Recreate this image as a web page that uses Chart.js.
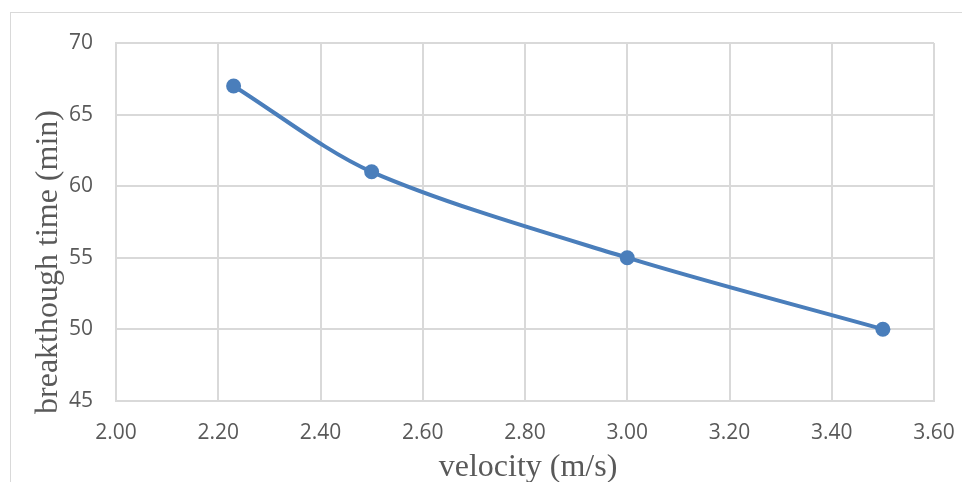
<!DOCTYPE html>
<html>
<head>
<meta charset="utf-8">
<script src="https://cdn.jsdelivr.net/npm/chart.js@4.4.1/dist/chart.umd.min.js"></script>
<style>
  html, body { margin: 0; padding: 0; background: #fff; overflow: hidden; width: 962px; height: 482px; }
  #frame {
    position: absolute; left: 10px; top: 12px; width: 960px; height: 490px;
    border-left: 1px solid #d9d9d9; border-top: 1px solid #d9d9d9; overflow: hidden;
  }
  #chart { display: block; }
</style>
</head>
<body>
<div id="frame"><canvas id="chart" width="951" height="490"></canvas></div>
<script>
// data
const velocity = [2.23, 2.5, 3.0, 3.5];
const breakTime = [67, 61, 55, 50];
const xTitle = 'velocity (m/s)';
const yTitle = 'breakthough time (min)';

const gridColor = '#d9d9d9';
const textColor = '#595959';
const lineColor = '#4a7ebb';

// axis titles drawn by hand so they sit where the original puts them
const axisTitles = {
    id: 'axisTitles',
    afterDraw(chart) {
        const { ctx, chartArea } = chart;
        ctx.save();
        ctx.fillStyle = textColor;
        ctx.font = '32px "Liberation Serif"';
        ctx.textAlign = 'center';
        ctx.textBaseline = 'alphabetic';
        ctx.fillText(xTitle, (chartArea.left + chartArea.right) / 2 + 3, chartArea.bottom + 75);
        ctx.translate(chartArea.left - 59, chartArea.top + 219);
        ctx.rotate(-Math.PI / 2);
        ctx.fillText(yTitle, 0, 0);
        ctx.restore();
    }
};

// let layout.padding alone decide the margins
const noOverflow = scale => {
    scale.paddingTop = 0;
    scale.paddingBottom = 0;
    scale.paddingLeft = 0;
    scale.paddingRight = 0;
};

const ctx = document.getElementById('chart').getContext('2d');
new Chart(ctx, {
    type: 'line',
    data: {
        datasets: [{
            data: velocity.map((v, i) => ({ x: v, y: breakTime[i] })),
            borderColor: lineColor,
            backgroundColor: lineColor,
            borderWidth: 4,
            pointRadius: 7.5,
            pointBackgroundColor: lineColor,
            pointBorderWidth: 0,
            tension: 0.3,
            fill: false
        }]
    },
    options: {
        responsive: false,
        animation: false,
        layout: {
            padding: { left: 35, right: 28, top: 30, bottom: 37 }
        },
        plugins: {
            legend: { display: false },
            tooltip: { enabled: false }
        },
        scales: {
            x: {
                type: 'linear',
                min: 2,
                max: 3.6,
                afterFit: noOverflow,
                grid: { color: gridColor, lineWidth: 2, drawTicks: false },
                border: { color: gridColor, width: 2 },
                ticks: {
                    stepSize: 0.2,
                    padding: 20,
                    color: textColor,
                    font: { family: '"Open Sans"', size: 21 },
                    callback: v => v.toFixed(2)
                }
            },
            y: {
                min: 45,
                max: 70,
                afterFit: noOverflow,
                grid: { color: gridColor, lineWidth: 2, drawTicks: false },
                border: { color: gridColor, width: 2 },
                ticks: {
                    stepSize: 5,
                    padding: 23,
                    color: textColor,
                    font: { family: '"Open Sans"', size: 21 }
                }
            }
        }
    },
    plugins: [axisTitles]
});
</script>
</body>
</html>
